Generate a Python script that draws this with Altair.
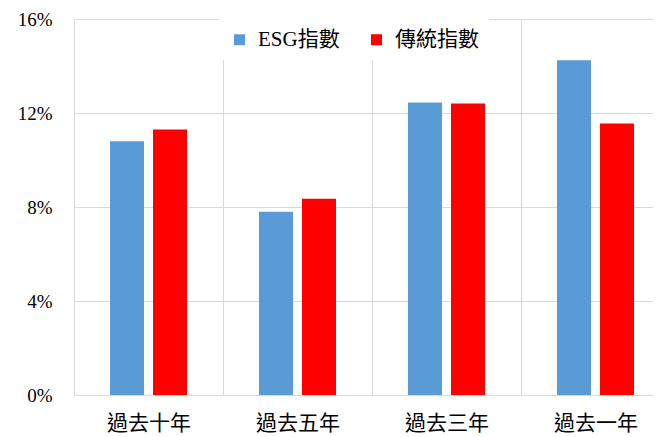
import altair as alt
import pandas as pd

categories = ["過去十年", "過去五年", "過去三年", "過去一年"]
series = ["ESG指數", "傳統指數"]
esg = [10.8, 7.8, 12.45, 14.25]
trad = [11.3, 8.35, 12.4, 11.55]
colors = ["#5B9BD5", "#FF0000"]

rows = []
for c, e, t in zip(categories, esg, trad):
    rows.append({"period": c, "series": series[0], "value": e / 100})
    rows.append({"period": c, "series": series[1], "value": t / 100})
df = pd.DataFrame(rows)

font = "Liberation Serif, Noto Sans CJK TC"

chart = alt.Chart(df).mark_bar().encode(
    x=alt.X(
        "period:N", sort=categories,
        scale=alt.Scale(range=[0, 596], paddingInner=0, paddingOuter=0),
        axis=alt.Axis(title=None, labelAngle=0, tickBand="extent", grid=True,
                      gridColor="#d9d9d9", ticks=False, domainColor="#d9d9d9",
                      labelFontSize=21, labelFont=font, labelPadding=17,
                      labelColor="#000000"),
    ),
    xOffset=alt.XOffset("series:N", sort=series,
                        scale=alt.Scale(paddingInner=0.209, paddingOuter=0.837)),
    y=alt.Y(
        "value:Q",
        scale=alt.Scale(domain=[0, 0.16]),
        axis=alt.Axis(values=[0, 0.04, 0.08, 0.12, 0.16], format=".0%", title=None,
                      ticks=False, domain=False, gridColor="#d9d9d9",
                      labelFontSize=19, labelFont=font, labelPadding=22,
                      labelColor="#000000"),
    ),
    color=alt.Color(
        "series:N", sort=series,
        scale=alt.Scale(domain=series, range=colors),
        legend=alt.Legend(title=None, orient="none", legendX=145, legendY=0,
                          direction="horizontal", fillColor="white", padding=10,
                          symbolType="square", symbolSize=121, symbolStrokeWidth=0,
                          labelFontSize=21, labelFont=font, labelColor="#000000",
                          columnPadding=26, labelOffset=8),
    ),
).properties(
    width=579, height=376,
    autosize=alt.AutoSizeParams(type="none"),
    padding={"left": 66, "top": 11, "right": 0, "bottom": 44},
).configure_view(strokeWidth=0)

chart.save("out.html", embed_options={"renderer": "svg", "actions": False})
